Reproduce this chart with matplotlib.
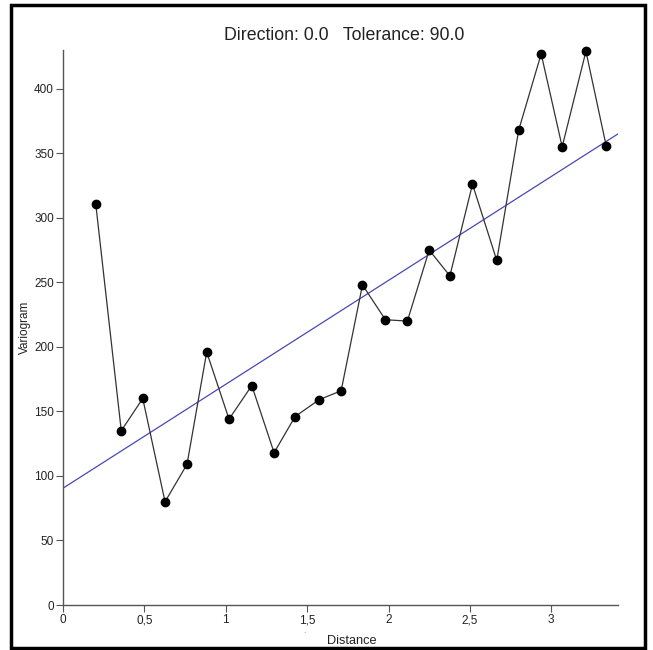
import matplotlib
matplotlib.use('Agg')
import matplotlib.pyplot as plt
import numpy as np
from matplotlib.patches import Rectangle
from matplotlib.ticker import FuncFormatter

plt.rcParams['font.family'] = ['Liberation Sans', 'DejaVu Sans']

# experimental variogram (lag distance, semivariance)
distance = [0.201, 0.358, 0.490, 0.627, 0.762, 0.883, 1.020, 1.160, 1.297,
            1.426, 1.573, 1.709, 1.840, 1.981, 2.116, 2.250, 2.377, 2.516,
            2.665, 2.800, 2.938, 3.067, 3.213, 3.337]
variogram = [311, 135, 160, 80, 109, 196, 144, 170, 118,
             146, 159, 166, 248, 221, 220, 275, 255, 326,
             267, 368, 427, 355, 429, 356]

# fitted linear model
intercept = 90.5
slope = 80.5

xmax = 3.41
ymax = 430

W, H = 653, 650
fig = plt.figure(figsize=(W/100, H/100), dpi=100)
ax = fig.add_axes([63/W, 1 - 605/H, (618 - 63)/W, (605 - 50)/H])

xl = np.array([0, xmax])
ax.plot(xl, intercept + slope*xl, color='#4848b4', lw=0.9, zorder=2)
ax.plot(distance, variogram, color='#333333', lw=0.9, marker='o', ms=6,
        mfc='black', mec='black', zorder=3, clip_on=False)

ax.set_xlim(0, xmax)
ax.set_ylim(0, ymax)
ax.set_xticks([0, 0.5, 1, 1.5, 2, 2.5, 3])
ax.set_yticks([0, 50, 100, 150, 200, 250, 300, 350, 400])
ax.xaxis.set_major_formatter(FuncFormatter(lambda v, p: ('%g' % v).replace('.', ',')))

for s in ['top', 'right']:
    ax.spines[s].set_visible(False)
for s in ['left', 'bottom']:
    ax.spines[s].set_color('#555555')
    ax.spines[s].set_linewidth(1.0)
ax.tick_params(colors='#555555', labelcolor='#222222', length=5, width=0.8,
               labelsize=8.5, pad=1.5)

ax.set_ylabel('Variogram', fontsize=8.5, color='#222222', labelpad=2)
fig.text(352/W, 1 - 635/H, 'Distance', ha='center', va='top',
         fontsize=9.2, color='#222222')
fig.text(304/W, 1 - 628/H, '.', ha='center', va='top',
         fontsize=6, color='#888888')
fig.text(344/W, 1 - 35/H, 'Direction: 0.0   Tolerance: 90.0',
         ha='center', va='center', fontsize=12.8, color='#222222')

# outer frame
fig.patches.append(Rectangle((11/W, 2/H), 634/W, 643/H,
                             transform=fig.transFigure, fill=False,
                             edgecolor='black', lw=2.5))

fig.savefig('out.png', dpi=100)
